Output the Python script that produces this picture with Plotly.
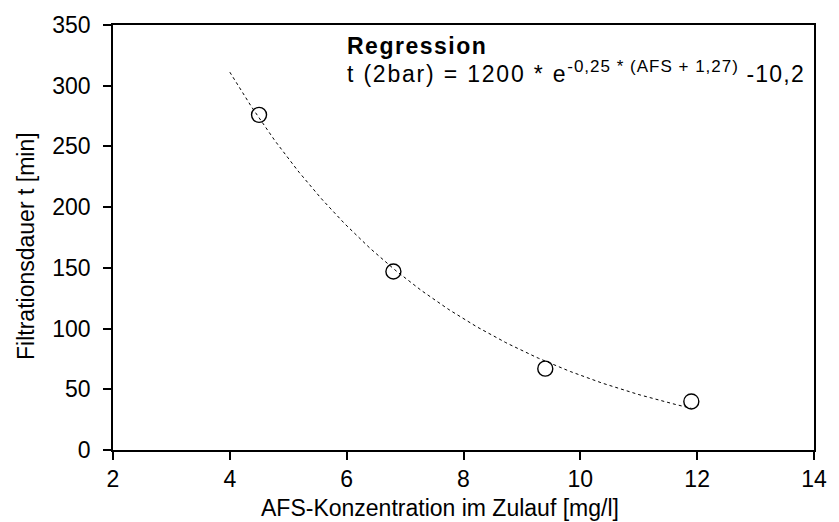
import numpy as np
import plotly.graph_objects as go

# Measured filtration durations at 2 bar
afs = [4.5, 6.8, 9.4, 11.9]
dauer = [276, 147, 67, 40]

# Regression parameters: t = a * exp(b * (AFS + c)) + d
reg_a, reg_b, reg_c, reg_d = 1200.0, -0.25, 1.27, -10.2
reg_x_start, reg_x_end = 4.0, 11.9

x_ticks = [2, 4, 6, 8, 10, 12, 14]
y_ticks = [0, 50, 100, 150, 200, 250, 300, 350]

reg_x = np.linspace(reg_x_start, reg_x_end, 200)
reg_y = reg_a * np.exp(reg_b * (reg_x + reg_c)) + reg_d

FONT = "Liberation Sans, Arial, sans-serif"

fig = go.Figure()
fig.add_trace(go.Scatter(
    x=reg_x, y=reg_y, mode="lines",
    line=dict(color="black", width=1, dash="dot"),
    showlegend=False, hoverinfo="skip",
))
fig.add_trace(go.Scatter(
    x=afs, y=dauer, mode="markers",
    marker=dict(symbol="circle-open", size=15, color="black", line=dict(width=1.4, color="black")),
    showlegend=False,
))

# Regression label block
fig.add_annotation(
    x=0.331, y=0.986, xref="paper", yref="paper", xanchor="left", yanchor="top",
    text="<span style='letter-spacing:1.5px'><b>Regression</b></span>",
    showarrow=False, align="left",
    font=dict(family=FONT, size=23, color="black"),
)
fig.add_annotation(
    x=0.331, y=0.93, xref="paper", yref="paper", xanchor="left", yanchor="top",
    text=("<span style='letter-spacing:1.8px'>t (2bar) = 1200 * e</span>"
          "<sup><span style='font-size:17px;letter-spacing:1px'>-0,25 * (AFS + 1,27)</span></sup>"
          "<span style='letter-spacing:1.2px'> -10,2</span>"),
    showarrow=False, align="left",
    font=dict(family=FONT, size=23, color="black"),
)

# Axis titles
fig.add_annotation(
    x=0.467, y=-0.136, xref="paper", yref="paper", xanchor="center", yanchor="middle",
    text="AFS-Konzentration im Zulauf [mg/l]", showarrow=False,
    font=dict(family=FONT, size=23, color="black"),
)
fig.add_annotation(
    x=-0.125, y=0.481, xref="paper", yref="paper", xanchor="center", yanchor="middle",
    text="Filtrationsdauer t [min]", showarrow=False, textangle=-90,
    font=dict(family=FONT, size=23, color="black"),
)

axis_common = dict(
    showgrid=False, zeroline=False, showline=True, linecolor="black", linewidth=1.5,
    mirror=True, ticks="outside", ticklen=8, tickwidth=1.5, tickcolor="black",
    tickfont=dict(family=FONT, size=23, color="black"),
)

fig.update_layout(
    width=839, height=522,
    margin=dict(l=113, r=15, t=24, b=72),
    paper_bgcolor="white", plot_bgcolor="white",
    xaxis=dict(
        range=[2, 14], tickvals=x_ticks, ticktext=[str(v) for v in x_ticks],
        **axis_common,
    ),
    yaxis=dict(
        range=[0, 350], tickvals=y_ticks, ticktext=[str(v) for v in y_ticks],
        ticklabelstandoff=8,
        **axis_common,
    ),
)

fig.write_html("out.html")
